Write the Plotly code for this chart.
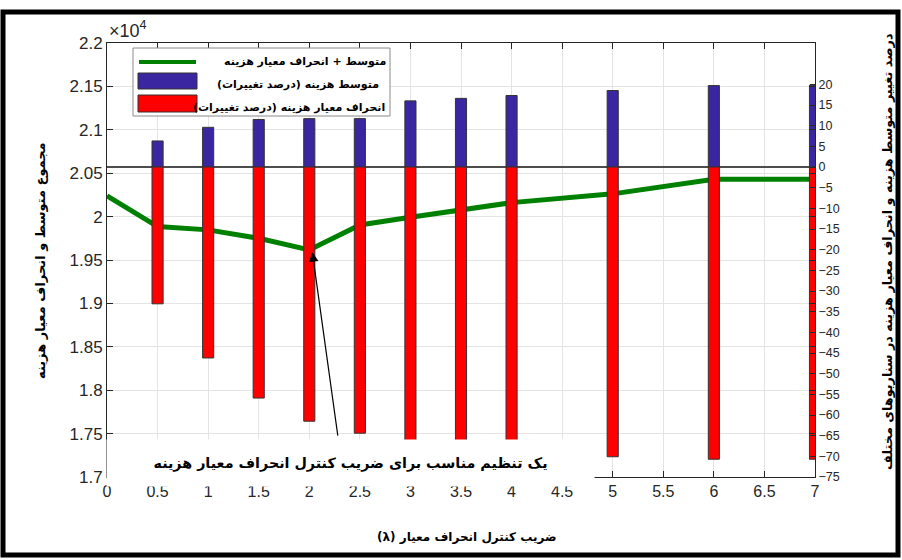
import plotly.graph_objects as go

# Standard-deviation control coefficient (lambda)
lam_line = [0, 0.5, 1, 1.5, 2, 2.5, 3, 3.5, 4, 5, 6, 7]
# Mean + standard deviation of cost
cost_sum = [20239, 19885, 19847, 19750, 19616, 19904, 19993, 20072, 20161, 20262, 20431, 20431]

lam_bar = [0.5, 1, 1.5, 2, 2.5, 3, 3.5, 4, 5, 6, 7]
# Percentage change of mean cost
mean_pct = [6.3, 9.6, 11.5, 11.7, 11.7, 16.0, 16.6, 17.3, 18.5, 19.7, 19.8]
# Percentage change of cost standard deviation
std_pct = [-33.1, -46.2, -55.9, -61.5, -64.4, -66.5, -67.5, -68.5, -70.1, -70.7, -70.7]

x_ticks = [i * 0.5 for i in range(15)]
y_ticks = [1.7 + i * 0.05 for i in range(11)]
y2_ticks = list(range(-75, 21, 5))

AR = "DejaVu Sans"
NUM = "Liberation Sans"
AXC = "#262626"

W, H = 902, 560
L, R, T, B = 107, 87, 43, 83
PW, PH = W - L - R, H - T - B


def px(x):
    return (x - L) / PW


def py(y):
    return (H - B - y) / PH


def rtl(s):
    # right-to-left embedding so Persian text with brackets orders correctly
    return "\u202b" + s + "\u202c"


fig = go.Figure()

fig.add_trace(go.Scatter(
    x=lam_line, y=[v / 1e4 for v in cost_sum], mode="lines",
    line=dict(color="rgb(0,128,0)", width=5), yaxis="y",
    name="متوسط + انحراف معیار هزینه"))

fig.add_trace(go.Bar(
    x=lam_bar, y=mean_pct, width=0.11, yaxis="y2",
    marker=dict(color="rgb(58,38,160)", line=dict(color="#333333", width=1)),
    name="متوسط هزینه (درصد تغییرات)"))

fig.add_trace(go.Bar(
    x=lam_bar, y=std_pct, width=0.11, yaxis="y2",
    marker=dict(color="rgb(255,0,0)", line=dict(color="#333333", width=1)),
    name="انحراف معیار هزینه (درصد تغییرات)"))

axis_common = dict(ticks="inside", ticklen=6, tickcolor=AXC, showline=True,
                   linecolor=AXC, linewidth=1, zeroline=False)

fig.update_layout(
    width=W, height=H, margin=dict(l=L, r=R, t=T, b=B),
    plot_bgcolor="white", paper_bgcolor="white",
    showlegend=False, barmode="overlay",
    xaxis=dict(range=[0, 7], tickvals=x_ticks, ticktext=[f"{v:g}" for v in x_ticks],
               showgrid=True, gridcolor="#e4e4e4", mirror="ticks",
               tickfont=dict(family=NUM, size=16, color=AXC), **axis_common),
    yaxis=dict(range=[1.7, 2.2], tickvals=y_ticks,
               ticktext=[f"{v:.2f}".rstrip("0").rstrip(".") for v in y_ticks],
               showgrid=True, gridcolor="#e4e4e4", mirror="ticks",
               tickfont=dict(family=NUM, size=17, color=AXC), **axis_common),
    yaxis2=dict(range=[-75, 30], tickvals=y2_ticks, overlaying="y", side="right",
                showgrid=False, ticks="inside", ticklen=5, tickcolor=AXC,
                showline=True, linecolor=AXC, linewidth=1,
                zeroline=True, zerolinecolor="#4d4d4d", zerolinewidth=1.5,
                tickfont=dict(family=NUM, size=12.5, color=AXC)),
)

shapes = []
# outer frame
shapes.append(dict(type="rect", xref="paper", yref="paper",
                   x0=px(3), x1=px(898), y0=py(555), y1=py(12),
                   line=dict(color="black", width=5), fillcolor="rgba(0,0,0,0)"))
# legend box
shapes.append(dict(type="rect", xref="paper", yref="paper",
                   x0=px(133), x1=px(390), y0=py(116), y1=py(48),
                   line=dict(color="#8a8a8a", width=1), fillcolor="white"))
shapes.append(dict(type="line", xref="paper", yref="paper",
                   x0=px(139), x1=px(196), y0=py(62), y1=py(62),
                   line=dict(color="rgb(0,128,0)", width=4)))
shapes.append(dict(type="rect", xref="paper", yref="paper",
                   x0=px(138), x1=px(197), y0=py(89), y1=py(73),
                   line=dict(color="#333333", width=1), fillcolor="rgb(58,38,160)"))
shapes.append(dict(type="rect", xref="paper", yref="paper",
                   x0=px(138), x1=px(197), y0=py(112), y1=py(95),
                   line=dict(color="#333333", width=1), fillcolor="rgb(255,0,0)"))
fig.update_layout(shapes=shapes)

ann = []
legend_rows = [("متوسط + انحراف معیار هزینه", 305, 62),
               ("متوسط هزینه (درصد تغییرات)", 298, 84),
               ("انحراف معیار هزینه (درصد تغییرات)", 289, 107)]
for txt, cx, cy in legend_rows:
    ann.append(dict(xref="paper", yref="paper", x=px(cx), y=py(cy), text=rtl(txt),
                    showarrow=False, xanchor="center", yanchor="middle",
                    font=dict(family=AR, size=11, color="black", weight="bold")))

# multiplier label
ann.append(dict(xref="paper", yref="paper", x=px(107), y=py(30), text="×10<sup>4</sup>",
                showarrow=False, xanchor="left", yanchor="middle",
                font=dict(family=NUM, size=18, color=AXC)))

# axis titles
ann.append(dict(xref="paper", yref="paper", x=px(40), y=py(261),
                text=rtl("مجموع متوسط و انحراف معیار هزینه"), textangle=-90,
                showarrow=False, xanchor="center", yanchor="middle",
                font=dict(family=AR, size=13, color="black", weight="bold")))
ann.append(dict(xref="paper", yref="paper", x=px(887), y=py(252),
                text=rtl("درصد تغییر متوسط هزینه و انحراف معیار هزینه در سناریوهای مختلف"),
                textangle=-90, showarrow=False, xanchor="center", yanchor="middle",
                font=dict(family=AR, size=12.8, color="black", weight="bold")))
ann.append(dict(xref="paper", yref="paper", x=px(467), y=py(537),
                text=rtl("ضریب کنترل انحراف معیار (λ)"),
                showarrow=False, xanchor="center", yanchor="middle",
                font=dict(family=AR, size=12, color="black", weight="bold")))

# callout for the chosen coefficient
ann.append(dict(xref="paper", yref="paper", x=px(350.5), y=py(463),
                text=rtl("یک تنظیم مناسب برای ضریب کنترل انحراف معیار هزینه"),
                showarrow=False, xanchor="center", yanchor="middle",
                width=485, height=44, bgcolor="white", align="center",
                font=dict(family=AR, size=14.3, color="black", weight="bold")))
ann.append(dict(xref="x", yref="y", x=2.03, y=1.959, axref="x", ayref="y",
                ax=2.284, ay=1.746, text="", showarrow=True,
                arrowhead=2, arrowsize=1.6, arrowwidth=1.2, arrowcolor="black",
                standoff=0))
fig.update_layout(annotations=ann)

fig.write_html("out.html")
